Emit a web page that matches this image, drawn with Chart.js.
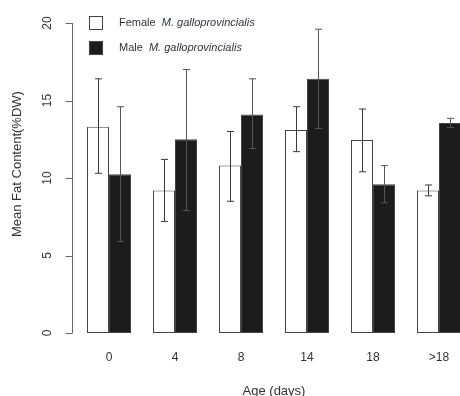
<!DOCTYPE html>
<html>
<head>
<meta charset="utf-8">
<script src="https://cdn.jsdelivr.net/npm/chart.js@4"></script>
<style>
  html, body { margin: 0; padding: 0; background: #fff; overflow: hidden; }
  #wrap { width: 480px; height: 396px; }
</style>
</head>
<body>
<div id="wrap"><canvas id="fat-chart" width="480" height="396"></canvas></div>
<script>
const ages = ['0', '4', '8', '14', '18', '>18'];
const yTicks = [0, 5, 10, 15, 20];

const femaleMean = [13.3, 9.2, 10.8, 13.1, 12.45, 9.2];
const femaleLow  = [10.3, 7.2, 8.5, 11.7, 10.4, 8.85];
const femaleHigh = [16.4, 11.2, 13.0, 14.6, 14.45, 9.55];

const maleMean = [10.25, 12.5, 14.1, 16.4, 9.6, 13.55];
const maleLow  = [5.9, 7.9, 11.9, 13.2, 8.4, 13.25];
const maleHigh = [14.6, 17.0, 16.4, 19.6, 10.8, 13.85];

const legendNames = ['Female', 'Male'];
const legendSpecies = 'M. galloprovincialis';
const yTitle = 'Mean Fat Content(%DW)';

const textColor = '#333';
const axisColor = '#666';
const fontFamily = '"Liberation Sans", Arial, sans-serif';

// error bars drawn from the low/high arrays through the scales
const errorBars = {
    id: 'errorBars',
    afterDatasetsDraw(chart) {
        const ctx = chart.ctx;
        const y = chart.scales.y;
        const sets = [[femaleLow, femaleHigh], [maleLow, maleHigh]];
        ctx.save();
        ctx.lineWidth = 1;
        sets.forEach((pair, di) => {
            const meta = chart.getDatasetMeta(di);
            meta.data.forEach((bar, i) => {
                const x = Math.round(bar.x) + 0.5;
                const y1 = y.getPixelForValue(pair[0][i]);
                const y2 = y.getPixelForValue(pair[1][i]);
                ctx.strokeStyle = di === 1 ? '#555' : '#3a3a3a';
                ctx.beginPath();
                ctx.moveTo(x, y1); ctx.lineTo(x, y2);
                ctx.moveTo(x - 3.5, y1); ctx.lineTo(x + 3.5, y1);
                ctx.moveTo(x - 3.5, y2); ctx.lineTo(x + 3.5, y2);
                ctx.stroke();
            });
        });
        ctx.restore();
    }
};

// R-style y axis: short line, outward ticks, rotated labels, title
const rAxis = {
    id: 'rAxis',
    afterDraw(chart) {
        const ctx = chart.ctx;
        const y = chart.scales.y;
        const ax = chart.chartArea.left - 4 + 0.5;
        ctx.save();
        ctx.strokeStyle = axisColor;
        ctx.lineWidth = 1;
        ctx.beginPath();
        ctx.moveTo(ax, y.getPixelForValue(yTicks[0]));
        ctx.lineTo(ax, y.getPixelForValue(yTicks[yTicks.length - 1]));
        y.ticks.forEach(t => {
            const py = Math.round(y.getPixelForValue(t.value)) + 0.5;
            ctx.moveTo(ax - 7, py); ctx.lineTo(ax, py);
        });
        ctx.stroke();
        ctx.fillStyle = textColor;
        ctx.font = '12px ' + fontFamily;
        ctx.textAlign = 'center';
        ctx.textBaseline = 'middle';
        y.ticks.forEach(t => {
            ctx.save();
            ctx.translate(48, y.getPixelForValue(t.value));
            ctx.rotate(-Math.PI / 2);
            ctx.fillText(String(t.value), 0, 0);
            ctx.restore();
        });
        ctx.font = '13px ' + fontFamily;
        ctx.translate(17, y.getPixelForValue(10.9));
        ctx.rotate(-Math.PI / 2);
        ctx.fillText(yTitle, 0, 0);
        ctx.restore();
    }
};

// legend with italic species name
const rLegend = {
    id: 'rLegend',
    afterDraw(chart) {
        const ctx = chart.ctx;
        const rows = [{ fill: '#fff', y: 23 }, { fill: '#1c1c1c', y: 48 }];
        ctx.save();
        rows.forEach((r, i) => {
            ctx.fillStyle = r.fill;
            ctx.strokeStyle = '#444';
            ctx.lineWidth = 1;
            ctx.fillRect(89.5, r.y - 6.5, 13, 13);
            ctx.strokeRect(89.5, r.y - 6.5, 13, 13);
            ctx.fillStyle = '#2d3440';
            ctx.textBaseline = 'middle';
            ctx.textAlign = 'left';
            ctx.font = '11px ' + fontFamily;
            const name = legendNames[i] + '  ';
            ctx.fillText(name, 119, r.y);
            const w = ctx.measureText(name).width;
            ctx.font = 'italic 11px ' + fontFamily;
            ctx.fillText(legendSpecies, 119 + w, r.y);
        });
        ctx.restore();
    }
};

new Chart(document.getElementById('fat-chart').getContext('2d'), {
    type: 'bar',
    data: {
        labels: ages,
        datasets: [{
            label: 'Female ' + legendSpecies,
            data: femaleMean,
            backgroundColor: '#ffffff',
            borderColor: '#444',
            borderWidth: 1,
            borderSkipped: false,
            categoryPercentage: 0.667,
            barPercentage: 1.0
        }, {
            label: 'Male ' + legendSpecies,
            data: maleMean,
            backgroundColor: '#1c1c1c',
            borderColor: '#444',
            borderWidth: 1,
            borderSkipped: false,
            categoryPercentage: 0.667,
            barPercentage: 1.0
        }]
    },
    options: {
        responsive: false,
        animation: false,
        layout: { padding: { top: 23, left: 0, right: 8, bottom: -3 } },
        scales: {
            x: {
                afterFit: scale => { scale.height = 66; },
                grid: { display: false, drawTicks: false },
                border: { display: false },
                ticks: {
                    color: textColor,
                    padding: 17,
                    font: { family: fontFamily, size: 12 }
                },
                title: {
                    display: true,
                    text: 'Age (days)',
                    color: textColor,
                    padding: { top: 18, bottom: 0 },
                    font: { family: fontFamily, size: 13 }
                }
            },
            y: {
                min: 0,
                max: 20,
                afterBuildTicks: scale => { scale.ticks = yTicks.map(v => ({ value: v })); },
                afterFit: scale => { scale.width = 76; },
                grid: { display: false, drawTicks: false },
                border: { display: false },
                ticks: { display: false },
                title: { display: false }
            }
        },
        plugins: {
            legend: { display: false },
            tooltip: { enabled: false }
        }
    },
    plugins: [errorBars, rAxis, rLegend]
});
</script>
</body>
</html>
